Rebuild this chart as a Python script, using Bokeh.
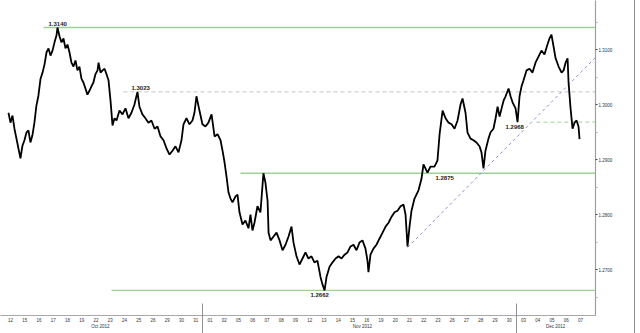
from bokeh.plotting import figure
from bokeh.models import LinearAxis, FixedTicker, Range1d, Label, PrintfTickFormatter
from bokeh.core.properties import value
from bokeh.embed import file_html
from bokeh.resources import INLINE

# ---- data -------------------------------------------------------------
day_labels = ["12", "15", "16", "17", "18", "19", "22", "23", "24", "25", "26", "29", "30", "31",
              "01", "02", "05", "06", "07", "08", "09", "12", "13", "14", "15", "16", "19", "20",
              "21", "22", "23", "26", "27", "28", "29", "30",
              "03", "04", "05", "06", "07"]
month_labels = ["Oct 2012", "Nov 2012", "Dec 2012"]
month_pos = [6.3, 24.7, 38.25]
month_breaks = [13.5, 35.5]

# trading-day index (fractional) and EUR/USD price
t = [-0.14, 0.00, 0.14, 0.28, 0.42, 0.56, 0.70, 0.84, 0.98, 1.12, 1.26, 1.40, 1.54, 1.68, 1.82,
     1.96, 2.11, 2.25, 2.39, 2.53, 2.67, 2.81, 2.95, 3.09, 3.23, 3.30, 3.44, 3.58, 3.72, 3.86,
     4.00, 4.14, 4.28, 4.42, 4.56, 4.70, 4.84, 4.98, 5.12, 5.26, 5.40, 5.54, 5.68, 5.82, 5.96,
     6.11, 6.18, 6.32, 6.46, 6.60, 6.74, 6.88, 7.02, 7.16, 7.30, 7.44, 7.65, 7.86, 8.07, 8.28,
     8.49, 8.70, 8.91, 9.05, 9.26, 9.47, 9.68, 9.89, 10.11, 10.32, 10.53, 10.74, 10.95, 11.16,
     11.37, 11.58, 11.79, 12.00, 12.14, 12.35, 12.56, 12.77, 12.91, 13.05, 13.26, 13.47, 13.68,
     13.89, 14.11, 14.32, 14.53, 14.74, 14.88, 15.02, 15.16, 15.30, 15.44, 15.58, 15.79, 15.93,
     16.07, 16.28, 16.49, 16.70, 16.84, 16.98, 17.12, 17.33, 17.54, 17.75, 17.89, 18.04, 18.11,
     18.25, 18.46, 18.67, 18.88, 19.09, 19.30, 19.51, 19.72, 19.86, 20.07, 20.28, 20.49, 20.70,
     20.91, 21.12, 21.33, 21.54, 21.75, 21.89, 22.04, 22.18, 22.39, 22.60, 22.81, 23.02, 23.23,
     23.44, 23.65, 23.86, 24.07, 24.28, 24.49, 24.70, 24.91, 25.05, 25.12, 25.26, 25.47, 25.68,
     25.89, 26.11, 26.32, 26.53, 26.74, 26.95, 27.16, 27.37, 27.58, 27.72, 27.86, 28.00, 28.14,
     28.35, 28.63, 28.84, 28.98, 29.26, 29.47, 29.75, 29.96, 30.11, 30.32, 30.53, 30.74, 30.95,
     31.16, 31.37, 31.58, 31.72, 31.93, 32.07, 32.28, 32.49, 32.70, 32.91, 33.05, 33.19, 33.33,
     33.54, 33.68, 33.89, 34.04, 34.18, 34.32, 34.46, 34.60, 34.74, 34.95, 35.09, 35.23, 35.44,
     35.58, 35.72, 35.86, 36.00, 36.21, 36.42, 36.63, 36.84, 37.05, 37.26, 37.47, 37.68, 37.82,
     37.96, 38.11, 38.25, 38.46, 38.67, 38.81, 38.95, 39.09, 39.16, 39.30, 39.44, 39.58, 39.72,
     39.86, 39.93]
price = [1.2985, 1.2967, 1.2980, 1.2956, 1.2938, 1.2920, 1.2902, 1.2925, 1.2935, 1.2949, 1.2953,
         1.2931, 1.2944, 1.2967, 1.2998, 1.3016, 1.3047, 1.3058, 1.3073, 1.3095, 1.3102, 1.3089,
         1.3098, 1.3113, 1.3126, 1.3140, 1.3124, 1.3113, 1.3120, 1.3102, 1.3109, 1.3095, 1.3076,
         1.3069, 1.3080, 1.3062, 1.3069, 1.3047, 1.3040, 1.3029, 1.3018, 1.3025, 1.3033, 1.3040,
         1.3055, 1.3062, 1.3076, 1.3058, 1.3062, 1.3065, 1.3055, 1.3044, 1.3007, 1.2962, 1.2975,
         1.2971, 1.2989, 1.2982, 1.2993, 1.2975, 1.2985, 1.3000, 1.3023, 1.2996, 1.2982, 1.2975,
         1.2967, 1.2971, 1.2956, 1.2960, 1.2942, 1.2935, 1.2920, 1.2909, 1.2916, 1.2924, 1.2913,
         1.2935, 1.2964, 1.2975, 1.2964, 1.2971, 1.2985, 1.3015, 1.2989, 1.2964, 1.2960, 1.2967,
         1.2982, 1.2942, 1.2946, 1.2935, 1.2916, 1.2895, 1.2869, 1.2840, 1.2829, 1.2822, 1.2833,
         1.2836, 1.2804, 1.2782, 1.2789, 1.2775, 1.2800, 1.2771, 1.2785, 1.2815, 1.2804, 1.2875,
         1.2858, 1.2825, 1.2767, 1.2753, 1.2760, 1.2767, 1.2753, 1.2735, 1.2745, 1.2760, 1.2778,
         1.2749, 1.2724, 1.2709, 1.2720, 1.2731, 1.2720, 1.2724, 1.2713, 1.2716, 1.2687, 1.2673,
         1.2662, 1.2687, 1.2705, 1.2713, 1.2720, 1.2724, 1.2720, 1.2727, 1.2731, 1.2742, 1.2745,
         1.2735, 1.2749, 1.2753, 1.2738, 1.2716, 1.2695, 1.2727, 1.2738, 1.2745, 1.2756, 1.2767,
         1.2778, 1.2785, 1.2796, 1.2804, 1.2807, 1.2815, 1.2818, 1.2800, 1.2742, 1.2778, 1.2807,
         1.2829, 1.2844, 1.2865, 1.2891, 1.2876, 1.2887, 1.2887, 1.2898, 1.2946, 1.2989, 1.2975,
         1.2967, 1.2964, 1.2956, 1.2971, 1.3000, 1.3011, 1.2985, 1.2949, 1.2938, 1.2935, 1.2931,
         1.2924, 1.2913, 1.2884, 1.2916, 1.2938, 1.2949, 1.2956, 1.2975, 1.2996, 1.2978, 1.2993,
         1.3007, 1.3015, 1.3029, 1.3015, 1.3004, 1.2993, 1.2968, 1.3015, 1.3033, 1.3044, 1.3062,
         1.3065, 1.3058, 1.3076, 1.3087, 1.3098, 1.3091, 1.3109, 1.3120, 1.3127, 1.3105, 1.3084,
         1.3069, 1.3058, 1.3062, 1.3076, 1.3084, 1.3040, 1.2993, 1.2956, 1.2967, 1.2971, 1.2960,
         1.2937]

ytick_vals = [1.27, 1.28, 1.29, 1.30, 1.31]
yminor_vals = [1.265, 1.275, 1.285, 1.295, 1.305, 1.315]

solid_levels = [1.3140, 1.2875, 1.2662]
solid_start = [2.32, 16.14, 7.09]
dashed_gray_level = [1.3023]
dashed_gray_start = [7.93]
dashed_green_level = [1.2968]
dashed_green_start = [36.9]
trend_x = [27.86, 41.05]
trend_y = [1.2740, 1.30855]

above_text = ["1.3140", "1.3023"]
above_x = [2.67, 8.49]
above_y = [1.3140, 1.3023]
below_text = ["1.2875", "1.2968", "1.2662"]
below_x = [29.82, 34.74, 21.05]
below_y = [1.2875, 1.2968, 1.2662]

last_price = 1.2937
last_text = "1.2937"

# ---- figure ----------------------------------------------------------
X0, X1 = -0.70, 41.05
Y0, Y1 = 1.26164, 1.31891
FONT = "Liberation Sans"

p = figure(frame_width=595, frame_height=315, x_range=Range1d(X0, X1), y_range=Range1d(Y0, Y1),
           output_backend="svg", toolbar_location=None,
           x_axis_location=None, y_axis_location=None,
           min_border_left=0, min_border_top=0, min_border_right=39, min_border_bottom=18)
p.outline_line_color = None
p.xgrid.visible = False
p.ygrid.visible = False
p.background_fill_color = "white"
p.border_fill_color = "white"
p.styles = {"border-right": "1px solid #8c8c8c"}

green = "#9dd196"
# horizontal levels
p.segment(x0=solid_start, y0=solid_levels, x1=[X1] * len(solid_levels), y1=solid_levels,
          line_color=green, line_width=1.4)
p.segment(x0=dashed_gray_start, y0=dashed_gray_level, x1=[X1], y1=dashed_gray_level,
          line_color="#c6c6c6", line_width=1, line_dash="4 3")
p.segment(x0=dashed_green_start, y0=dashed_green_level, x1=[X1], y1=dashed_green_level,
          line_color=green, line_width=1, line_dash="4 3")
p.line(trend_x, trend_y, line_color="#8f8fd8", line_width=1, line_dash="3 3")

# price
p.line(t, price, line_color="black", line_width=1.8)

# level annotations
p.text(x=above_x, y=above_y, text=above_text, text_font=value(FONT), text_font_size="6px",
       text_font_style="bold", text_color="#222222", text_baseline="bottom", y_offset=-2)
p.text(x=below_x, y=below_y, text=below_text, text_font=value(FONT), text_font_size="6px",
       text_font_style="bold", text_color="#222222", text_baseline="top", y_offset=3)

# right price axis
yax = LinearAxis(ticker=FixedTicker(ticks=ytick_vals, minor_ticks=yminor_vals),
                 formatter=PrintfTickFormatter(format="%.4f"))
yax.axis_line_color = "#a0a0a0"
yax.axis_line_width = 1.2
yax.major_tick_in = 0
yax.major_tick_out = 2
yax.major_tick_line_color = "#444444"
yax.minor_tick_in = 0
yax.minor_tick_out = 2
yax.minor_tick_line_color = "#b0b0b0"
yax.major_label_standoff = 1
yax.major_label_text_font = FONT
yax.major_label_text_font_size = "4.5px"
yax.major_label_text_color = "#333333"
p.add_layout(yax, "right")

# bottom day axis
xax = LinearAxis(ticker=FixedTicker(ticks=list(range(len(day_labels)))),
                 major_label_overrides={i: s for i, s in enumerate(day_labels)})
xax.axis_line_color = "#a8a8a8"
xax.axis_line_width = 1
xax.major_tick_in = 0
xax.major_tick_out = 0
xax.minor_tick_line_color = None
xax.major_label_standoff = 2
xax.major_label_text_font = FONT
xax.major_label_text_font_size = "4.5px"
xax.major_label_text_color = "#333333"
p.add_layout(xax, "below")

# bottom month axis; its minor ticks are the month separators
max2 = LinearAxis(ticker=FixedTicker(ticks=month_pos, minor_ticks=month_breaks),
                  major_label_overrides={m: s for m, s in zip(month_pos, month_labels)})
max2.axis_line_color = None
max2.major_tick_line_color = None
max2.major_tick_out = 0
max2.major_tick_in = 0
max2.minor_tick_line_color = "#777777"
max2.minor_tick_line_width = 0.8
max2.minor_tick_in = 21
max2.minor_tick_out = 12
max2.major_label_standoff = -13
max2.major_label_text_font = FONT
max2.major_label_text_font_size = "4.5px"
max2.major_label_text_color = "#333333"
p.add_layout(max2, "below")

# last price box
p.add_layout(Label(x=X1, y=last_price, x_offset=2, text=last_text, text_font=FONT,
                   text_font_size="4.5px", text_color="#222222", text_baseline="middle",
                   border_line_color="#555555", border_line_width=0.8,
                   background_fill_color="white", padding=1))

open("out.html", "w").write(file_html(p, INLINE))
